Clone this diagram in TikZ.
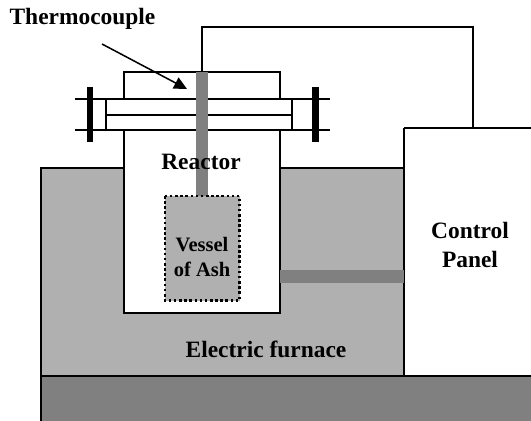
\documentclass[tikz,border=0pt]{standalone}
\usetikzlibrary{arrows.meta}
\usepackage{fontspec}
\setmainfont{Liberation Serif}
\definecolor{furnacegray}{HTML}{B0B0B0}
\definecolor{roddark}{HTML}{808080}
\tikzset{
  wall/.style={draw=black, line width=1.9pt},
  thin wall/.style={draw=black, line width=1.3pt},
  lbl/.style={font=\bfseries\fontsize{20}{24}\selectfont, align=center, inner sep=0pt},
  small lbl/.style={font=\bfseries\fontsize{17.5}{21}\selectfont, align=center, inner sep=0pt}
}
\begin{document}
\begin{tikzpicture}[x=0.03cm,y=-0.03cm]
\useasboundingbox (0,0) rectangle (531,421);
\fill[white] (0,0) rectangle (531,421);
\fill[furnacegray] (41,168) rectangle (404,376);
\draw[wall] (41,376)--(41,168)--(124,168);
\draw[wall] (280,168)--(404,168);
\draw[thin wall] (404,128)--(404,376);
\draw[wall] (404,128)--(531,128);
\fill[roddark] (41,376) rectangle (531,421);
\draw[wall] (41,421)--(41,376)--(531,376);
% reactor
\draw[wall, fill=white] (124,130)--(124,313)--(280,313)--(280,130);
\draw[wall, fill=white] (124,99)--(124,72)--(280,72)--(280,99);
% flange
\draw[wall] (75,99)--(330,99);
\draw[wall] (75,130)--(330,130);
\draw[thin wall] (106,99)--(106,130);
\draw[thin wall] (292,99)--(292,130);
\draw[thin wall] (106,115)--(292,115);
\fill (86.5,87) rectangle (93,142);
\fill (312,87) rectangle (318.5,142);
% rods
\fill[roddark] (196,72) rectangle (208,197);
\fill[roddark] (280,270) rectangle (404,283);
% vessel
\draw[fill=furnacegray, line width=2.2pt, dash pattern=on 2.2pt off 2.2pt] (165,196) rectangle (239.5,300.5);
% wire
\coordinate (tc top) at (202,72);
\coordinate (panel top) at (473,128);
\draw[line width=1.2pt] (tc top)--(202,27)--(473,27)--(panel top);
% labels
\node[lbl] (thermo) at (82.5,19) {Thermocouple};
\coordinate (arrow start) at (102,44);
\coordinate (arrow end) at (187,89);
\draw[line width=1.3pt, -{Triangle[length=11pt,width=10.5pt]}] (arrow start)--(arrow end);
\node[lbl] (reactor) at (201,162) {Reactor};
\node[small lbl] (vessel) at (202,257) {Vessel\\of Ash};
\node[lbl] (panel) at (470,245) {Control\\Panel};
\node[lbl] (furnace) at (266,349) {Electric furnace};
\end{tikzpicture}
\end{document}
